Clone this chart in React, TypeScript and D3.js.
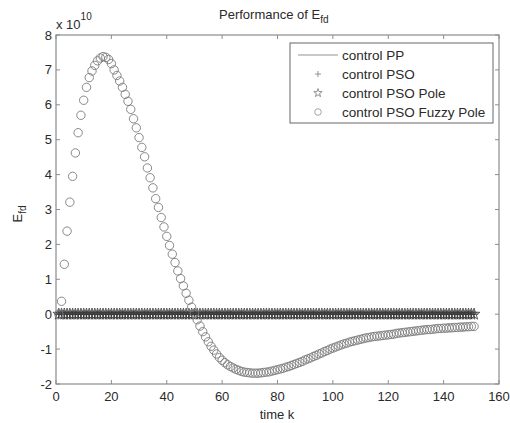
import React from "react";
import * as d3 from "d3";

// E_fd values, in units of 1e10, for k = 1..151
const fuzzyPole = [
  0, 0.37, 1.43, 2.38, 3.21, 3.95, 4.62, 5.2, 5.7, 6.13,
  6.5, 6.78, 6.97, 7.13, 7.26, 7.34, 7.38, 7.36, 7.3, 7.18,
  7.0, 6.84, 6.68, 6.5, 6.3, 6.1, 5.87, 5.6, 5.34, 5.06,
  4.78, 4.51, 4.19, 3.91, 3.62, 3.31, 3.06, 2.77, 2.5, 2.23,
  1.97, 1.72, 1.48, 1.24, 1.02,
  0.81, 0.6, 0.4, 0.2, 0.02, -0.16, -0.34, -0.5, -0.65, -0.79,
  -0.92, -1.03, -1.14, -1.24, -1.32,
  -1.39, -1.45, -1.5, -1.54, -1.58, -1.61, -1.64, -1.66, -1.67, -1.68,
  -1.69, -1.69, -1.69, -1.68, -1.67, -1.66, -1.65, -1.63, -1.61, -1.59,
  -1.57, -1.55, -1.52, -1.5, -1.47, -1.44, -1.41, -1.38, -1.35, -1.31,
  -1.28, -1.25, -1.21, -1.18, -1.14, -1.11, -1.07, -1.04, -1.0, -0.97,
  -0.94, -0.91, -0.88, -0.85, -0.83, -0.8, -0.78, -0.76, -0.74, -0.72,
  -0.7, -0.68, -0.67, -0.65, -0.64, -0.63, -0.62, -0.61, -0.6, -0.59,
  -0.58, -0.57, -0.55, -0.54, -0.53, -0.52, -0.51, -0.5, -0.49, -0.48,
  -0.47, -0.46, -0.45, -0.44, -0.44, -0.43, -0.42, -0.41, -0.41, -0.4,
  -0.4, -0.39, -0.39, -0.38, -0.38, -0.37, -0.37, -0.36, -0.36, -0.35, -0.35,
];
const timeK = d3.range(1, fuzzyPole.length + 1);
// the other three controllers stay at ~0 on this scale
const controlPP = timeK.map(() => 0);
const controlPSO = timeK.map(() => 0);
const controlPSOPole = timeK.map(() => 0);

const xTicks = [0, 20, 40, 60, 80, 100, 120, 140, 160];
const yTicks = [-2, -1, 0, 1, 2, 3, 4, 5, 6, 7, 8];
const legendLabels = ["control PP", "control PSO", "control PSO Pole", "control PSO Fuzzy Pole"];

const W = 510;
const H = 423;
const margin = { top: 35, right: 11, bottom: 39, left: 56 };
const font = "'Liberation Sans', Arial, sans-serif";
const axisColor = "#8c8c8c";
const textColor = "#2a2a2a";

export default function App() {
  const x = d3.scaleLinear().domain([0, 160]).range([margin.left, W - margin.right]);
  const y = d3.scaleLinear().domain([-2, 8]).range([H - margin.bottom, margin.top]);
  const ppLine = d3
    .line<number>()
    .x((_, i) => x(timeK[i]))
    .y((d) => y(d));
  const star = d3.symbol().type(d3.symbolStar).size(42)() as string;
  const smallStar = d3.symbol().type(d3.symbolStar).size(22)() as string;
  const x0 = margin.left;
  const x1 = W - margin.right;
  const y0 = H - margin.bottom;
  const y1 = margin.top;
  const tl = 4;

  const plus = (cx: number, cy: number, s: number, key: string, col = "#333") => (
    <path
      key={key}
      d={`M${cx - s},${cy}H${cx + s}M${cx},${cy - s}V${cy + s}`}
      stroke={col}
      strokeWidth={0.9}
      fill="none"
    />
  );

  const legX = 290;
  const legY = 43;
  const rows = [55, 74, 93, 112];

  return (
    <svg
      width={W}
      height={H}
      style={{ position: "absolute", left: 0, top: 0, background: "#fff" }}
      fontFamily={font}
    >
      {/* title */}
      <text x={219} y={19} fontSize={13} fill={textColor}>
        Performance of E
        <tspan fontSize={10} dy={4}>fd</tspan>
      </text>
      {/* exponent */}
      <text x={56} y={29} fontSize={13} fill={textColor}>
        x 10
        <tspan fontSize={10} dy={-9}>10</tspan>
      </text>

      {/* plot box */}
      <rect x={x0} y={y1} width={x1 - x0} height={y0 - y1} fill="none" stroke={axisColor} strokeWidth={1.2} />
      {xTicks.map((t) => (
        <g key={"xt" + t}>
          <line x1={x(t)} x2={x(t)} y1={y0} y2={y0 - tl} stroke={axisColor} />
          <line x1={x(t)} x2={x(t)} y1={y1} y2={y1 + tl} stroke={axisColor} />
          <text x={x(t)} y={401} textAnchor="middle" fontSize={13} fill={textColor}>
            {t}
          </text>
        </g>
      ))}
      {yTicks.map((t) => (
        <g key={"yt" + t}>
          <line x1={x0} x2={x0 + tl} y1={y(t)} y2={y(t)} stroke={axisColor} />
          <line x1={x1} x2={x1 - tl} y1={y(t)} y2={y(t)} stroke={axisColor} />
          <text x={52} y={y(t) + 4.5} textAnchor="end" fontSize={13} fill={textColor}>
            {t}
          </text>
        </g>
      ))}

      {/* axis labels */}
      <text x={277} y={419} textAnchor="middle" fontSize={13} fill={textColor}>
        time k
      </text>
      <text transform="translate(22,214) rotate(-90)" textAnchor="middle" fontSize={13} fill={textColor}>
        E<tspan fontSize={10} dy={4}>fd</tspan>
      </text>

      {/* series */}
      <path d={ppLine(controlPP) as string} stroke="#555" strokeWidth={0.8} fill="none" />
      {controlPSO.map((v, i) => plus(x(timeK[i]), y(v), 4, "p" + i))}
      {controlPSOPole.map((v, i) => (
        <path
          key={"s" + i}
          d={star}
          transform={`translate(${x(timeK[i])},${y(v)})`}
          fill="none"
          stroke="#3a3a3a"
          strokeWidth={0.8}
        />
      ))}
      {fuzzyPole.map((v, i) => (
        <circle
          key={"c" + i}
          cx={x(timeK[i])}
          cy={y(v)}
          r={4.2}
          fill="none"
          stroke="#7a7a7a"
          strokeWidth={0.9}
        />
      ))}

      {/* legend */}
      <rect x={legX} y={legY} width={203} height={80} fill="#fff" stroke="#666" strokeWidth={1} />
      <line x1={298} x2={338} y1={rows[0]} y2={rows[0]} stroke="#777" strokeWidth={0.8} />
      {plus(318, rows[1], 3, "lp", "#888")}
      <path d={smallStar} transform={`translate(318,${rows[2]})`} fill="none" stroke="#777" strokeWidth={0.8} />
      <circle cx={318} cy={rows[3]} r={3.3} fill="none" stroke="#999" strokeWidth={0.9} />
      {legendLabels.map((l, i) => (
        <text key={l} x={342} y={rows[i] + 5} fontSize={13.5} fill={textColor}>
          {l}
        </text>
      ))}
    </svg>
  );
}
